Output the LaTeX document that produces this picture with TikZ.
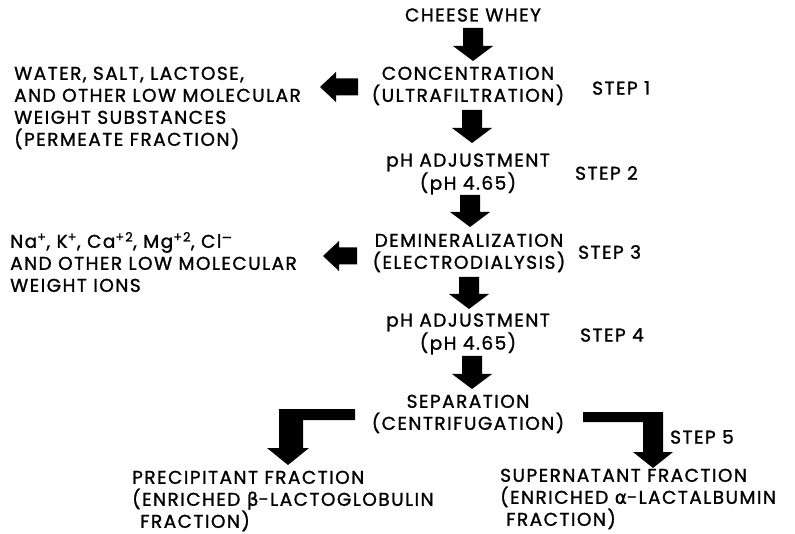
\documentclass[tikz,border=0pt]{standalone}
\usepackage{fontspec}
\setmainfont{Poppins}[LetterSpace=8,FakeBold=1.3]
\newfontfamily\grk{DejaVu Sans}[LetterSpace=8,FakeBold=1.3]
\tikzset{
  lbl/.style={inner sep=0pt, font=\fontsize{18.5}{22}\selectfont},
  blk/.style={fill=black, draw=none}
}
\newcommand\dnarrow[3]{% x, top, tip
  \fill[blk] (#1-10,#2) -- (#1+10,#2) -- (#1+10,#3-15) -- (#1+20,#3-15) -- (#1,#3) -- (#1-20,#3-15) -- (#1-10,#3-15) -- cycle;}
\newcommand\lfarrow[3]{% tip x, y, right end
  \fill[blk] (#3,#2-8.5) -- (#1+16,#2-8.5) -- (#1+16,#2-15) -- (#1,#2) -- (#1+16,#2+15) -- (#1+16,#2+8.5) -- (#3,#2+8.5) -- cycle;}
\begin{document}
\begin{tikzpicture}[x=1pt,y=-1pt]
\useasboundingbox (0,0) rectangle (795,534);
% main column
\node[lbl] (whey) at (473,15) {CHEESE WHEY};
\node[lbl,align=center] (conc) at (468,86) {CONCENTRATION\\(ULTRAFILTRATION)};
\node[lbl,align=center] (ph1) at (468,174) {pH ADJUSTMENT\\(pH 4.65)};
\node[lbl,align=center] (demin) at (469,253) {DEMINERALIZATION\\(ELECTRODIALYSIS)};
\node[lbl,align=center] (ph2) at (468,334) {pH ADJUSTMENT\\(pH 4.65)};
\node[lbl,align=center] (sep) at (468,414) {SEPARATION\\(CENTRIFUGATION)};
% steps
\node[lbl,anchor=west] (s1) at (592,88) {STEP 1};
\node[lbl,anchor=west] (s2) at (575,173) {STEP 2};
\node[lbl,anchor=west] (s3) at (578,252) {STEP 3};
\node[lbl,anchor=west] (s4) at (580,335) {STEP 4};
\node[lbl,anchor=west] (s5) at (670,437) {STEP 5};
% side products
\node[lbl,anchor=west,align=left] (perm) at (14,108) {WATER, SALT, LACTOSE,\\AND OTHER LOW MOLECULAR\\WEIGHT SUBSTANCES\\(PERMEATE FRACTION)};
\node[lbl,anchor=west,align=left] (ions) at (10,262) {Na\textsuperscript{+}, K\textsuperscript{+}, Ca\textsuperscript{+2}, Mg\textsuperscript{+2}, Cl\textsuperscript{\grk −}\\AND OTHER LOW MOLECULAR\\WEIGHT IONS};
\node[lbl,anchor=west,align=left] (prec) at (132,501) {PRECIPITANT FRACTION\\(ENRICHED {\grk β}-LACTOGLOBULIN\\\hspace*{8pt}FRACTION)};
\node[lbl,anchor=west,align=left] (sup) at (500,499) {SUPERNATANT FRACTION\\(ENRICHED {\grk α}-LACTALBUMIN\\\hspace*{6pt}FRACTION)};
% arrows
\dnarrow{473}{28}{61}
\dnarrow{472}{110}{143}
\dnarrow{470}{195}{227}
\dnarrow{469}{277}{309}
\dnarrow{472}{356}{389}
\lfarrow{320}{87}{358}
\lfarrow{323}{256}{357}
\fill[blk] (355,409) -- (355,420) -- (303,420) -- (303,448) -- (309,448) -- (288,465) -- (267,448) -- (279,448) -- (279,409) -- cycle;
\fill[blk] (583,412) -- (663,412) -- (663,452) -- (673,452) -- (653,468) -- (633,452) -- (643,452) -- (643,422) -- (583,422) -- cycle;
\end{tikzpicture}
\end{document}
